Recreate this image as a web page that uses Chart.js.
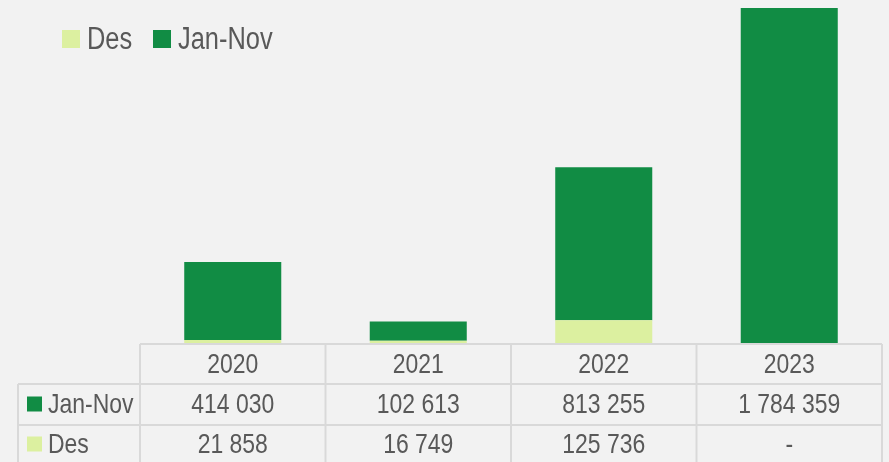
<!DOCTYPE html>
<html>
<head>
<meta charset="utf-8">
<script src="https://cdn.jsdelivr.net/npm/chart.js@4"></script>
<style>
  html, body { margin: 0; padding: 0; background: #f2f2f2; }
  #wrap { width: 889px; height: 462px; position: relative; }
</style>
</head>
<body>
<div id="wrap"><canvas id="chart" width="889" height="462"></canvas></div>
<script>
// data
const years = ['2020', '2021', '2022', '2023'];
const janNov = [414030, 102613, 813255, 1784359];
const des = [21858, 16749, 125736, null];

const darkGreen = '#118c44';
const lightGreen = '#dcf0a0';
const textColor = '#595959';
const gridColor = '#d9d9d9';
const font = '"Liberation Sans", Arial, sans-serif';
const narrow = 0.82; // squeeze text sideways, like Arial Narrow

// numbers like 1 784 359
function fmt(v) {
    if (v === null || v === undefined) return '-';
    return String(v).replace(/\B(?=(\d{3})+(?!\d))/g, ' ');
}

function narrowText(ctx, txt, x, y, align) {
    ctx.save();
    ctx.translate(x, y);
    ctx.scale(narrow, 1);
    ctx.textAlign = align;
    ctx.fillText(txt, 0, 0);
    ctx.restore();
}

// draws the legend and the data table under the bars
const tablePlugin = {
    id: 'dataTable',
    afterDraw(chart) {
        const ctx = chart.ctx;
        const x = chart.scales.x;
        const area = chart.chartArea;
        const colW = x.width / years.length;
        const left = area.left, right = area.right;
        const labelLeft = 18;
        const rows = [area.bottom, area.bottom + 40, area.bottom + 81, chart.height + 2];

        ctx.save();
        ctx.textBaseline = 'middle';

        // legend
        ctx.font = '31px ' + font;
        const legend = [['Des', lightGreen, 62], ['Jan-Nov', darkGreen, 153]];
        legend.forEach(([txt, col, lx]) => {
            ctx.fillStyle = col;
            ctx.fillRect(lx, 30, 18, 18);
            ctx.fillStyle = textColor;
            narrowText(ctx, txt, lx + 25, 40, 'left');
        });

        // grid lines
        ctx.strokeStyle = gridColor;
        ctx.lineWidth = 2;
        ctx.beginPath();
        ctx.moveTo(left, rows[0]); ctx.lineTo(right, rows[0]);
        ctx.moveTo(labelLeft, rows[1]); ctx.lineTo(right, rows[1]);
        ctx.moveTo(labelLeft, rows[2]); ctx.lineTo(right, rows[2]);
        ctx.moveTo(labelLeft, rows[1]); ctx.lineTo(labelLeft, rows[3]);
        for (let i = 0; i <= years.length; i++) {
            const cx = left + i * colW;
            ctx.moveTo(cx, rows[0]); ctx.lineTo(cx, rows[3]);
        }
        ctx.stroke();

        // header and values
        ctx.font = '28px ' + font;
        ctx.fillStyle = textColor;
        years.forEach((y, i) => {
            const cx = x.getPixelForValue(i);
            narrowText(ctx, y, cx, (rows[0] + rows[1]) / 2 + 1, 'center');
            narrowText(ctx, fmt(janNov[i]), cx, (rows[1] + rows[2]) / 2 + 1, 'center');
            narrowText(ctx, fmt(des[i]), cx, (rows[2] + rows[3]) / 2 + 1, 'center');
        });

        // row labels with colour keys
        const labels = [['Jan-Nov', darkGreen, 1], ['Des', lightGreen, 2]];
        labels.forEach(([txt, col, r]) => {
            const cy = (rows[r] + rows[r + 1]) / 2;
            ctx.fillStyle = col;
            ctx.fillRect(27, cy - 8, 15, 15);
            ctx.fillStyle = textColor;
            narrowText(ctx, txt, 48, cy + 1, 'left');
        });
        ctx.restore();
    }
};

new Chart(document.getElementById('chart'), {
    type: 'bar',
    data: {
        labels: years,
        datasets: [{
            label: 'Des',
            data: des,
            backgroundColor: lightGreen
        }, {
            label: 'Jan-Nov',
            data: janNov,
            backgroundColor: darkGreen
        }]
    },
    options: {
        responsive: false,
        animation: false,
        layout: {
            padding: { left: 140, right: 7, top: 5, bottom: 118 }
        },
        datasets: {
            bar: { categoryPercentage: 1, barPercentage: 0.523 }
        },
        scales: {
            x: { stacked: true, display: false },
            y: { stacked: true, display: false, min: 0, max: 1800000 }
        },
        plugins: {
            legend: { display: false },
            tooltip: { enabled: false }
        }
    },
    plugins: [tablePlugin]
});
</script>
</body>
</html>
